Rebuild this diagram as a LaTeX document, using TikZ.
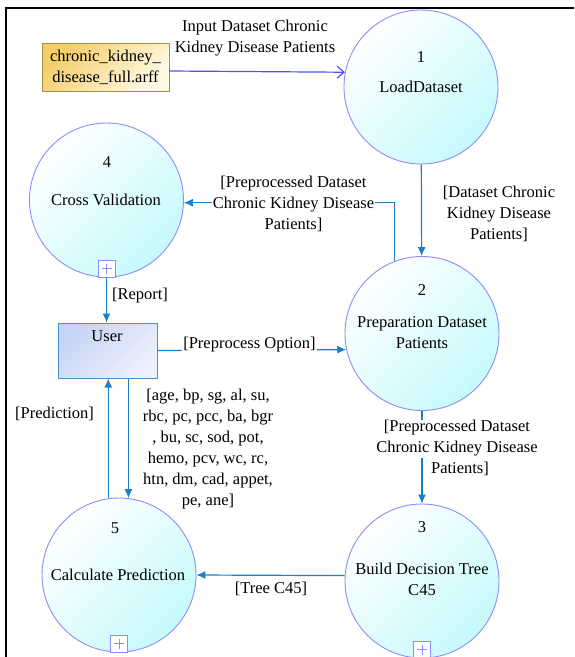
\documentclass[tikz,border=0pt]{standalone}
\usepackage{fontspec}
\setmainfont{Liberation Serif}
\usetikzlibrary{arrows.meta}
\definecolor{procfill}{RGB}{198,250,252}
\definecolor{procline}{RGB}{140,140,250}
\definecolor{flow}{RGB}{25,128,200}
\definecolor{inflow}{RGB}{80,80,250}
\definecolor{userA}{RGB}{198,212,245}
\definecolor{userB}{RGB}{238,240,253}
\definecolor{userline}{RGB}{70,145,210}
\definecolor{fileA}{RGB}{245,205,105}
\definecolor{fileB}{RGB}{255,249,228}
\definecolor{fileline}{RGB}{160,145,60}
\begin{document}
\begin{tikzpicture}[x=1pt,y=-1pt,
 every node/.style={font=\fontsize{16.5}{21}\selectfont, text=black},
 proc/.style={circle, draw=procline, line width=0.9pt, minimum size=154pt, inner sep=0pt, top color=white, bottom color=procfill, shading angle=45},
 plusbox/.style={draw=procline, fill=white, minimum size=17pt, inner sep=0pt, line width=0.8pt,
   path picture={\draw[procline, line width=0.8pt]
     ([xshift=-5pt]path picture bounding box.center) -- ([xshift=5pt]path picture bounding box.center)
     ([yshift=-5pt]path picture bounding box.center) -- ([yshift=5pt]path picture bounding box.center);}},
 lbl/.style={align=center, inner sep=1pt},
 wlbl/.style={align=center, inner sep=1pt, fill=white},
 flowline/.style={draw=flow, line width=1.2pt, -{Latex[length=9pt,width=8pt]}},
 inline/.style={draw=inflow, line width=1.2pt, -{Straight Barb[length=7pt,width=12pt]}},
]
\useasboundingbox (0,0) rectangle (574,657);
% frame
\draw[line width=2.5pt] (6,657) -- (6,8) -- (574,8);

% processes
\node[proc] (c1) at (421,87) {};
\node[proc] (c2) at (422,333.5) {};
\node[proc] (c3) at (422,581) {};
\node[proc] (c4) at (106.5,200) {};
\node[proc] (c5) at (119,575) {};

\node (c1n) at (421,57) {1};
\node (c1t) at (421,87) {LoadDataset};
\node (c2n) at (422,290) {2};
\node[align=center] (c2t) at (422,333) {Preparation Dataset\\Patients};
\node (c3n) at (422,527) {3};
\node[align=center] (c3t) at (422,579.5) {Build Decision Tree\\C45};
\node (c4n) at (107,162) {4};
\node (c4t) at (106,200) {Cross Validation};
\node (c5n) at (115,528) {5};
\node (c5t) at (118,575) {Calculate Prediction};

\node[plusbox, anchor=south] (p4) at (c4.south) {};
\node[plusbox, anchor=south] (p5) at (c5.south) {};
\node[plusbox, anchor=south] (p3) at (c3.south) {};

% entities
\node[draw=userline, line width=1pt, minimum width=99pt, minimum height=55pt, inner sep=0pt,
  top color=userA, bottom color=userB, shading angle=45] (user) at (107.5,350.5) {};
\node (usert) at (107,336) {User};
\node[draw=fileline, line width=1pt, minimum width=127pt, minimum height=48pt, inner sep=0pt,
  top color=fileA, bottom color=fileB, shading angle=45, align=center] (file) at (105.5,67)
  {chronic\_kidney\_\\disease\_full.arff};

% flows
\draw[inline] ([yshift=-4pt]file.east) -- (c1.169);
\draw[flowline] (c1) -- (c2);
\draw[flowline] (c2.111) |- (c4.-2);
\draw[flowline] (c4.south) -- (c4.south |- user.north);
\draw[flowline] (user.east) -- (c2.192);
\draw[flowline] (c5.83 |- user.south) -- (c5.83);
\draw[flowline] (c5.98) -- (c5.98 |- user.south);
\draw[flowline] (c2) -- (c3);
\draw[flowline] (c3.176) -- (c5.east);

% labels
\node[lbl] (l1) at (255,38.5) {Input Dataset Chronic\\Kidney Disease Patients};
\node[lbl] (l2) at (499,213.5) {[Dataset Chronic\\Kidney Disease\\Patients]};
\node[wlbl] (l3) at (293.5,203.5) {[Preprocessed Dataset\\Chronic Kidney Disease\\Patients]};
\node[lbl] (l4) at (140,296) {[Report]};
\node[wlbl] (l5) at (249.5,345) {[Preprocess Option]};
\node[lbl] (l6) at (208,449.5) {[age, bp, sg, al, su,\\rbc, pc, pcc, ba, bgr\\, bu, sc, sod, pot,\\hemo, pcv, wc, rc,\\htn, dm, cad, appet,\\pe, ane]};
\node[lbl] (l7) at (54.5,414) {[Prediction]};
\node[wlbl] (l8a) at (457,438.5) {[Preprocessed Dataset\\Chronic Kidney Disease};
\node[lbl] (l8b) at (460,469) {Patients]};
\node[lbl] (l9) at (271,589) {[Tree C45]};
\end{tikzpicture}
\end{document}
